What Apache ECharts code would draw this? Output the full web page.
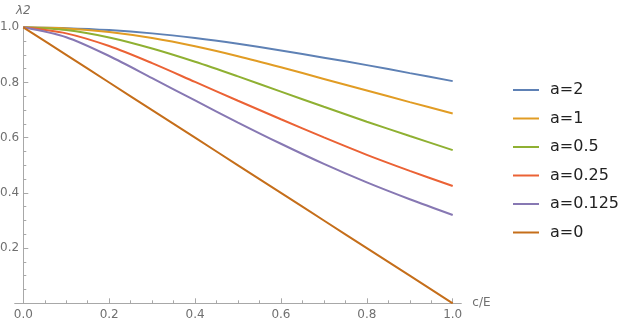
<!DOCTYPE html>
<html>
<head>
<meta charset="utf-8">
<script src="https://cdn.jsdelivr.net/npm/echarts@6/dist/echarts.min.js"></script>
<style>
html,body{margin:0;padding:0;background:#fff;}
#chart{width:623px;height:328px;}
</style>
</head>
<body>
<div id="chart"></div>
<script>
// c/E sample positions
var xValues = [0, 0.1, 0.2, 0.3, 0.4, 0.5, 0.6, 0.7, 0.8, 0.9, 1.0];
var seriesNames = ['a=2', 'a=1', 'a=0.5', 'a=0.25', 'a=0.125', 'a=0'];
var a2     = [1, 0.997, 0.990, 0.978, 0.961, 0.940, 0.916, 0.890, 0.863, 0.834, 0.805];
var a1     = [1, 0.996, 0.983, 0.961, 0.931, 0.895, 0.855, 0.813, 0.771, 0.729, 0.688];
var a05    = [1, 0.990, 0.963, 0.923, 0.875, 0.822, 0.767, 0.712, 0.658, 0.606, 0.555];
var a025   = [1, 0.978, 0.932, 0.870, 0.802, 0.734, 0.667, 0.601, 0.538, 0.480, 0.425];
var a0125  = [1, 0.964, 0.896, 0.816, 0.735, 0.655, 0.578, 0.505, 0.438, 0.377, 0.320];
var a0     = [1, 0.9, 0.8, 0.7, 0.6, 0.5, 0.4, 0.3, 0.2, 0.1, 0.0];
var xMajorTicks = [0, 0.2, 0.4, 0.6, 0.8, 1.0];
var xMinorTicks = [0.05,0.1,0.15,0.25,0.3,0.35,0.45,0.5,0.55,0.65,0.7,0.75,0.85,0.9,0.95];
var yTickLabels = [0.2, 0.4, 0.6, 0.8, 1.0];

var colors = ['#5E81B5', '#E19C24', '#8FB032', '#EB6235', '#8778B3', '#C56E1A'];
var allValues = [a2, a1, a05, a025, a0125, a0];

var axisColor = '#a8a8a8';
var labelColor = '#707070';
var font = 'DejaVu Sans';

var chart = echarts.init(document.getElementById('chart'), null, {renderer: 'canvas'});
var series = allValues.map(function (vals, i) {
  return {
    name: seriesNames[i],
    type: 'line',
    xAxisIndex: 0,
    yAxisIndex: 0,
    data: xValues.map(function (x, j) { return [x, vals[j]]; }),
    smooth: 0.3,
    symbol: 'none',
    lineStyle: {width: 2, color: colors[i]},
    itemStyle: {color: colors[i]},
    emphasis: {disabled: true},
    z: 3
  };
});

chart.setOption({
  animation: false,
  backgroundColor: '#fff',
  grid: {left: 14.7, right: 161.7, top: 27.3, bottom: 24.7, containLabel: false, outerBoundsMode: 'none'},
  legend: {
    orient: 'vertical',
    left: 513,
    top: 82,
    icon: 'path://M0,0 L26,0 L26,2 L0,2 Z',
    itemWidth: 26,
    itemHeight: 16,
    itemGap: 12.5,
    padding: 0,
    data: seriesNames,
    textStyle: {fontSize: 16, fontFamily: font, color: '#222', padding: [0, 0, 0, 6]}
  },
  xAxis: [{
    type: 'value',
    min: -0.02,
    max: 1.02,
    name: 'c/E',
    nameLocation: 'end',
    nameGap: 11,
    nameTextStyle: {fontSize: 12, fontFamily: font, color: labelColor, verticalAlign: 'middle'},
    axisLine: {show: true, onZero: true, lineStyle: {color: axisColor, width: 1}},
    axisTick: {show: true, inside: true, length: 5, customValues: xMajorTicks, lineStyle: {color: axisColor}},
    axisLabel: {show: true, customValues: xMajorTicks, margin: 6, fontSize: 12, fontFamily: font, color: labelColor,
      formatter: function (v) { return v.toFixed(1); }},
    splitLine: {show: false}
  }, {
    type: 'value',
    min: -0.02,
    max: 1.02,
    position: 'bottom',
    axisLine: {show: false, onZero: false},
    axisTick: {show: true, inside: true, length: 3, customValues: xMinorTicks, lineStyle: {color: axisColor}},
    axisLabel: {show: false},
    splitLine: {show: false}
  }],
  yAxis: [{
    type: 'value',
    min: 0,
    max: 1.0,
    interval: 0.2,
    name: 'λ2',
    nameLocation: 'end',
    nameGap: 10,
    nameTextStyle: {fontSize: 12, fontFamily: font, color: labelColor, align: 'center', fontStyle: 'italic'},
    axisLine: {show: true, onZero: true, lineStyle: {color: axisColor, width: 1}},
    axisTick: {show: true, inside: true, length: 5, customValues: yTickLabels, lineStyle: {color: axisColor}},
    minorTick: {show: true, splitNumber: 4, length: 3, lineStyle: {color: axisColor}},
    axisLabel: {show: true, customValues: yTickLabels, margin: -4.5, fontSize: 12, fontFamily: font, color: labelColor,
      formatter: function (v) { return v.toFixed(1); }},
    splitLine: {show: false}
  }],
  series: series
});
</script>
</body>
</html>
